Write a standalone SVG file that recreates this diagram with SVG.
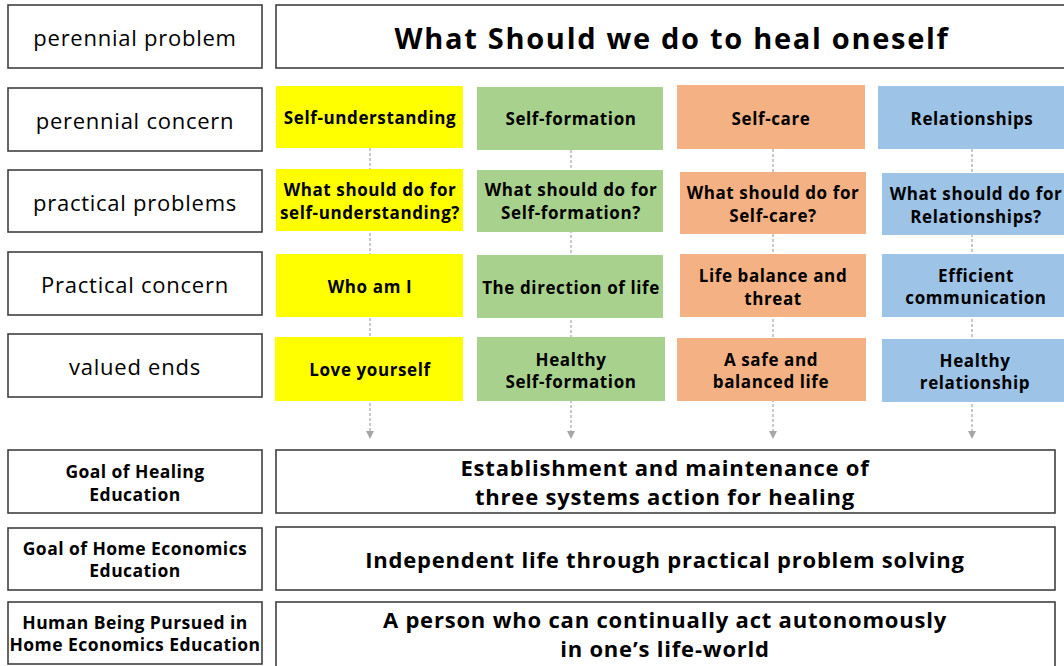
<svg xmlns="http://www.w3.org/2000/svg" width="1064" height="666" viewBox="0 0 1064 666">
<style>
.frame{fill:#fff;stroke:#404040;stroke-width:1.6}
.lab{font-family:"Open Sans","Noto Sans",sans-serif;font-size:22px;letter-spacing:0.75px;fill:#000;text-anchor:middle;dominant-baseline:central}
.labb{font-family:"Open Sans","Noto Sans",sans-serif;font-size:17.5px;letter-spacing:0.45px;font-weight:bold;fill:#000;text-anchor:middle;dominant-baseline:central}
.cell{font-family:"Open Sans","Noto Sans",sans-serif;font-size:17px;letter-spacing:0.6px;font-weight:bold;fill:#000;text-anchor:middle;dominant-baseline:central}
.big{font-family:"Open Sans","Noto Sans",sans-serif;font-size:22px;letter-spacing:0.8px;font-weight:bold;fill:#000;text-anchor:middle;dominant-baseline:central}
.title{font-family:"Open Sans","Noto Sans",sans-serif;font-size:29px;letter-spacing:1.7px;font-weight:bold;fill:#000;text-anchor:middle;dominant-baseline:central}
.y{fill:#FFFF00}.g{fill:#A9D18E}.o{fill:#F4B183}.b{fill:#9DC3E6}
.dash{stroke:#A6A6A6;stroke-width:1.2;stroke-dasharray:3 2;fill:none}
</style>
<defs>
<marker id="arr" markerWidth="8" markerHeight="8" refX="4" refY="4" orient="auto" markerUnits="userSpaceOnUse">
<path d="M0,0 L8,4 L0,8 Z" fill="#A6A6A6"/>
</marker>
</defs>
<g id="connectors">
<line class="dash" x1="370" y1="148" x2="370" y2="435" marker-end="url(#arr)"/>
<line class="dash" x1="571" y1="150" x2="571" y2="435" marker-end="url(#arr)"/>
<line class="dash" x1="773" y1="149" x2="773" y2="435" marker-end="url(#arr)"/>
<line class="dash" x1="972" y1="149" x2="972" y2="435" marker-end="url(#arr)"/>
</g>
<g id="label-perennial-problem"><rect class="frame" x="8" y="5" width="254" height="63"/><text class="lab" x="135" y="37">perennial problem</text></g>
<g id="label-perennial-concern"><rect class="frame" x="8" y="88" width="254" height="63"/><text class="lab" x="135" y="120">perennial concern</text></g>
<g id="label-practical-problems"><rect class="frame" x="8" y="170" width="254" height="62"/><text class="lab" x="135" y="202">practical problems</text></g>
<g id="label-practical-concern"><rect class="frame" x="8" y="252" width="254" height="63"/><text class="lab" x="135" y="284">Practical concern</text></g>
<g id="label-valued-ends"><rect class="frame" x="8" y="334" width="254" height="63"/><text class="lab" x="135" y="366">valued ends</text></g>
<g id="label-goal-healing"><rect class="frame" x="8" y="450" width="254" height="63"/><text class="labb" x="135" y="471">Goal of Healing</text><text class="labb" x="135" y="494">Education</text></g>
<g id="label-goal-home"><rect class="frame" x="8" y="528" width="254" height="62"/><text class="labb" x="135" y="548">Goal of Home Economics</text><text class="labb" x="135" y="570">Education</text></g>
<g id="label-human-being"><rect class="frame" x="8" y="602" width="254" height="62"/><text class="labb" x="135" y="622">Human Being Pursued in</text><text class="labb" x="135" y="644">Home Economics Education</text></g>
<g id="title"><rect class="frame" x="276" y="5" width="800" height="63"/><text class="title" x="672" y="37">What Should we do to heal oneself</text></g>
<g id="self-understanding"><rect class="y" x="276" y="86" width="187" height="62"/><text class="cell" x="370" y="117">Self-understanding</text></g>
<g id="self-formation"><rect class="g" x="477" y="87" width="186" height="63"/><text class="cell" x="571" y="118">Self-formation</text></g>
<g id="self-care"><rect class="o" x="677" y="85" width="188" height="64"/><text class="cell" x="771" y="118">Self-care</text></g>
<g id="relationships"><rect class="b" x="878" y="86" width="200" height="63"/><text class="cell" x="972" y="118">Relationships</text></g>
<g id="pp-yellow"><rect class="y" x="276" y="169" width="187" height="62"/><text class="cell" x="370" y="189">What should do for</text><text class="cell" x="370" y="212">self-understanding?</text></g>
<g id="pp-green"><rect class="g" x="477" y="170" width="186" height="62"/><text class="cell" x="571" y="189">What should do for</text><text class="cell" x="571" y="212">Self-formation?</text></g>
<g id="pp-orange"><rect class="o" x="680" y="172" width="186" height="62"/><text class="cell" x="773" y="192">What should do for</text><text class="cell" x="773" y="215">Self-care?</text></g>
<g id="pp-blue"><rect class="b" x="882" y="173" width="200" height="62"/><text class="cell" x="976" y="193">What should do for</text><text class="cell" x="976" y="216">Relationships?</text></g>
<g id="pc-yellow"><rect class="y" x="276" y="254" width="187" height="63"/><text class="cell" x="370" y="286">Who am I</text></g>
<g id="pc-green"><rect class="g" x="477" y="255" width="186" height="63"/><text class="cell" x="571" y="287">The direction of life</text></g>
<g id="pc-orange"><rect class="o" x="680" y="254" width="186" height="63"/><text class="cell" x="773" y="275">Life balance and</text><text class="cell" x="773" y="298">threat</text></g>
<g id="pc-blue"><rect class="b" x="882" y="254" width="200" height="63"/><text class="cell" x="976" y="275">Efficient</text><text class="cell" x="976" y="297">communication</text></g>
<g id="ve-yellow"><rect class="y" x="275" y="337" width="188" height="64"/><text class="cell" x="370" y="369">Love yourself</text></g>
<g id="ve-green"><rect class="g" x="477" y="337" width="188" height="64"/><text class="cell" x="571" y="359">Healthy</text><text class="cell" x="571" y="381">Self-formation</text></g>
<g id="ve-orange"><rect class="o" x="677" y="338" width="189" height="63"/><text class="cell" x="771" y="359">A safe and</text><text class="cell" x="771" y="381">balanced life</text></g>
<g id="ve-blue"><rect class="b" x="882" y="339" width="200" height="63"/><text class="cell" x="975" y="360">Healthy</text><text class="cell" x="975" y="382">relationship</text></g>
<g id="goal-healing"><rect class="frame" x="276" y="450" width="779" height="63"/><text class="big" x="665" y="467">Establishment and maintenance of</text><text class="big" x="665" y="496">three systems action for healing</text></g>
<g id="goal-home"><rect class="frame" x="276" y="527" width="779" height="63"/><text class="big" x="665" y="559">Independent life through practical problem solving</text></g>
<g id="human-being"><rect class="frame" x="276" y="602" width="779" height="70"/><text class="big" x="665" y="619">A person who can continually act autonomously</text><text class="big" x="665" y="648">in one’s life-world</text></g>
</svg>
